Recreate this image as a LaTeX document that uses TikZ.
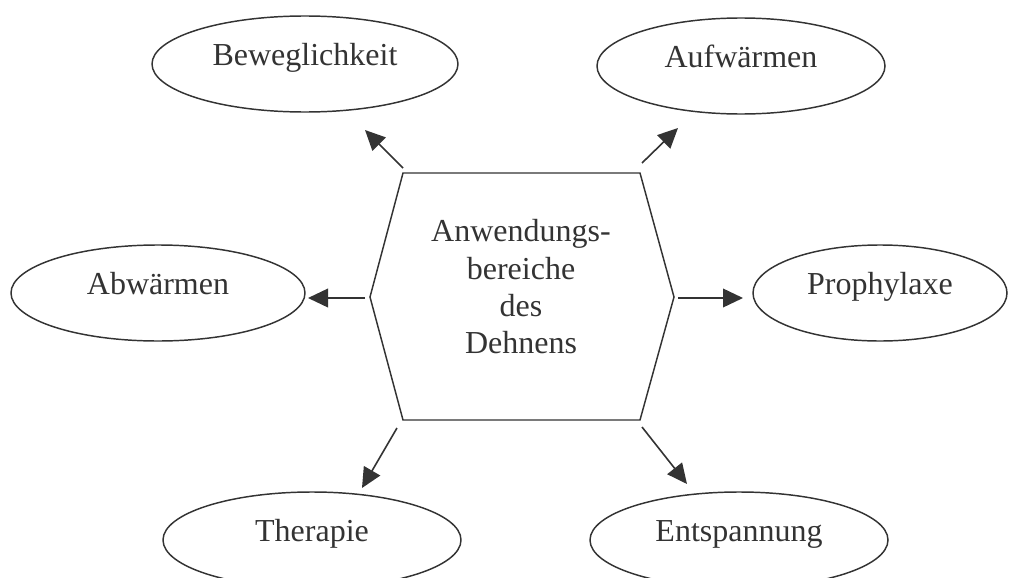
\documentclass[tikz,border=0pt]{standalone}
\usepackage{fontspec}
\setmainfont{Liberation Serif}
\usetikzlibrary{shapes.geometric,arrows.meta}
\definecolor{dk}{RGB}{51,51,51}
\tikzset{
  bubble/.style={ellipse, draw=dk, line width=1.1pt, text=dk, inner sep=0pt,
    minimum height=72pt,
    font=\fontsize{24pt}{28pt}\selectfont, text height=0.6em, text depth=0.32em},
  link/.style={draw=dk, line width=1.2pt, -{Triangle[length=15pt,width=14pt]}},
  hexline/.style={draw=dk, line width=1.1pt, line join=miter}
}
\begin{document}
\begin{tikzpicture}[x=0.75pt,y=-0.75pt]
\useasboundingbox (0,0) rectangle (1021,578);
\clip (0,0) rectangle (1021,578);
% hexagon
\coordinate (h1) at (403,173);
\coordinate (h2) at (640,173);
\coordinate (h3) at (674,297);
\coordinate (h4) at (640,420);
\coordinate (h5) at (403,420);
\coordinate (h6) at (370,297);
\draw[hexline] (h1) -- (h2) -- (h3) -- (h4) -- (h5) -- (h6) -- cycle;
\node[text=dk, align=center, font=\fontsize{24pt}{28pt}\selectfont, inner sep=0pt]
  (hex) at (521,287) {Anwendungs-\\bereiche\\des\\Dehnens};
% ellipses
\node[bubble, minimum width=229.5pt] (bew) at (305,64) {Beweglichkeit};
\node[bubble, minimum width=216pt] (auf) at (741,66) {Aufwärmen};
\node[bubble, minimum width=220.5pt] (abw) at (158,293) {Abwärmen};
\node[bubble, minimum width=190.5pt] (pro) at (880,293) {Prophylaxe};
\node[bubble, minimum width=223.5pt] (the) at (312,540) {Therapie};
\node[bubble, minimum width=223.5pt] (ent) at (739,540) {Entspannung};
% arrow ends
\coordinate (s1) at (403,168); \coordinate (e1) at (365,130);
\coordinate (s2) at (642,163); \coordinate (e2) at (678,128);
\coordinate (s3) at (365,298); \coordinate (e3) at (308,298);
\coordinate (s4) at (678,298); \coordinate (e4) at (743,298);
\coordinate (s5) at (397,428); \coordinate (e5) at (362,488);
\coordinate (s6) at (642,427); \coordinate (e6) at (687,484);
\draw[link] (s1) -- (e1);
\draw[link] (s2) -- (e2);
\draw[link] (s3) -- (e3);
\draw[link] (s4) -- (e4);
\draw[link] (s5) -- (e5);
\draw[link] (s6) -- (e6);
\end{tikzpicture}
\end{document}
